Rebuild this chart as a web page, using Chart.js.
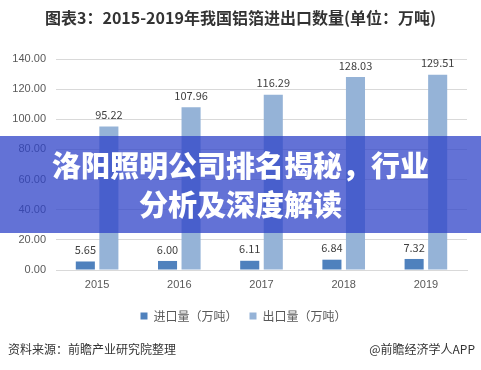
<!DOCTYPE html>
<html>
<head>
<meta charset="utf-8">
<script src="https://cdn.jsdelivr.net/npm/chart.js@4/dist/chart.umd.min.js"></script>
<style>
  html, body { margin: 0; padding: 0; background: #fff; }
  body { width: 481px; height: 370px; position: relative; overflow: hidden;
         font-family: "Noto Sans CJK SC", "Microsoft YaHei", sans-serif; }
  #wrap { position: absolute; left: 0; top: 0; width: 481px; height: 370px; }
  #title { position: absolute; left: 0; width: 481px; top: 5px; text-align: center;
           font-size: 16px; font-weight: bold; color: #333; }
  #src { position: absolute; left: 8px; top: 340px; font-size: 12px; color: #333; }
  #app { position: absolute; right: 6px; top: 340px; font-size: 12px; color: #333; }
  #banner { position: absolute; left: 0; top: 136px; width: 481px; height: 97px;
            background: rgba(47, 67, 200, 0.75); color: #fff; text-align: center;
            font-size: 29px; font-weight: 900; line-height: 39px; padding-top: 9px;
            box-sizing: border-box; }
</style>
</head>
<body>
<div id="wrap"><canvas id="chart" width="481" height="370"></canvas></div>
<div id="title">图表3：2015-2019年我国铝箔进出口数量(单位：万吨)</div>
<div id="src">资料来源：前瞻产业研究院整理</div>
<div id="app">@前瞻经济学人APP</div>
<div id="banner">洛阳照明公司排名揭秘，行业<br>分析及深度解读</div>
<script>
const years = ['2015', '2016', '2017', '2018', '2019'];
const importVals = [5.65, 6.00, 6.11, 6.84, 7.32];
const exportVals = [95.22, 107.96, 116.29, 128.03, 129.51];
const yTicks = [0, 20, 40, 60, 80, 100, 120, 140];

// values above bars
const valueLabels = {
  id: 'valueLabels',
  afterDatasetsDraw(chart) {
    const ctx = chart.ctx;
    ctx.save();
    ctx.font = '11px "Noto Sans CJK SC", sans-serif';
    ctx.fillStyle = '#404040';
    ctx.textAlign = 'center';
    ctx.textBaseline = 'bottom';
    chart.data.datasets.forEach((ds, i) => {
      chart.getDatasetMeta(i).data.forEach((bar, j) => {
        ctx.fillText(ds.data[j].toFixed(2), bar.x, bar.y - 6);
      });
    });
    ctx.restore();
  }
};

// nudge the legend a little to the right, like the original
const legendShift = {
  id: 'legendShift',
  afterLayout(chart) {
    if (chart.legend) {
      chart.legend.left += 10;
      chart.legend.right += 10;
    }
  }
};

new Chart(document.getElementById('chart'), {
  type: 'bar',
  data: {
    labels: years,
    datasets: [{
      label: '进口量（万吨）',
      data: importVals,
      backgroundColor: '#4f81bd'
    }, {
      label: '出口量（万吨）',
      data: exportVals,
      backgroundColor: '#95b3d7'
    }]
  },
  options: {
    responsive: false,
    animation: false,
    categoryPercentage: 0.573,
    barPercentage: 0.81,
    layout: { padding: { top: 59, right: 14, bottom: 38, left: 0 } },
    plugins: {
      title: { display: false },
      tooltip: { enabled: false },
      legend: {
        position: 'bottom',
        labels: {
          boxWidth: 7, boxHeight: 7, padding: 12,
          color: '#595959',
          font: { size: 12, family: '"Noto Sans CJK SC", sans-serif' }
        }
      }
    },
    scales: {
      x: {
        grid: { display: false, drawTicks: false },
        border: { color: '#d9d9d9' },
        ticks: { color: '#595959', padding: 8, font: { size: 11 } },
        afterFit(s) { s.height = 28; }
      },
      y: {
        min: 0, max: 140,
        afterBuildTicks(s) { s.ticks = yTicks.map(v => ({ value: v })); },
        grid: { color: '#d9d9d9', drawTicks: false },
        border: { display: false },
        ticks: { color: '#595959', padding: 10, font: { size: 11 },
                 callback: v => v.toFixed(2) },
        afterFit(s) { s.width = 56; }
      }
    }
  },
  plugins: [valueLabels, legendShift]
});
</script>
</body>
</html>
